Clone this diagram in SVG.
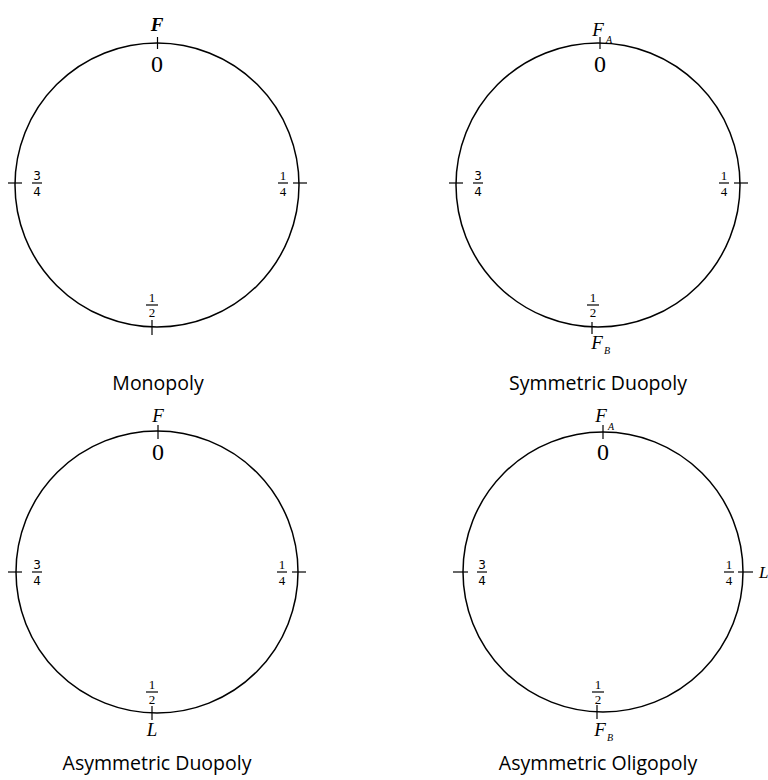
<svg xmlns="http://www.w3.org/2000/svg" width="768" height="780" viewBox="0 0 768 780">
<style>
.c{fill:none;stroke:#000;stroke-width:1.5}
.t{stroke:#000;stroke-width:1.2}
.f{font-family:"Liberation Serif",serif;font-size:13px;fill:#000;text-anchor:middle}
.fs{font-family:"DejaVu Sans",sans-serif;font-size:12px;fill:#000;text-anchor:middle}
.cap{font-family:"Open Sans",sans-serif;font-size:19.5px;fill:#000;text-anchor:middle}
.z{font-family:"Liberation Serif",serif;font-size:24px;fill:#000;text-anchor:middle}
.v{font-family:"Liberation Serif",serif;font-style:italic;fill:#000}
</style>
<rect width="768" height="780" fill="#fff"/>

<g id="monopoly">
<circle class="c" cx="157" cy="185" r="142"/>
<line class="t" x1="157.5" y1="37" x2="157.5" y2="49"/>
<line class="t" x1="8" y1="183" x2="22" y2="183"/>
<line class="t" x1="293" y1="183" x2="307" y2="183"/>
<line class="t" x1="152" y1="320" x2="152" y2="335"/>
<text class="v" x="157" y="31" font-size="19" font-weight="bold" text-anchor="middle">F</text>
<text class="z" x="157" y="72">0</text>
<text class="fs" x="37" y="180">3</text><line class="t" x1="32" y1="183" x2="42" y2="183"/><text class="fs" x="37" y="196">4</text>
<text class="f" x="283" y="180">1</text><line class="t" x1="278" y1="183" x2="288" y2="183"/><text class="f" x="283" y="196">4</text>
<text class="f" x="152" y="302">1</text><line class="t" x1="146" y1="305" x2="158" y2="305"/><text class="f" x="152" y="317">2</text>
<text class="cap" x="158" y="390">Monopoly</text>
</g>

<g id="symmetric-duopoly">
<circle class="c" cx="598" cy="185" r="142"/>
<line class="t" x1="600" y1="37" x2="600" y2="49"/>
<line class="t" x1="449" y1="183" x2="463" y2="183"/>
<line class="t" x1="734" y1="183" x2="748" y2="183"/>
<line class="t" x1="592" y1="322" x2="592" y2="334"/>
<text class="v" x="598" y="36" font-size="19" text-anchor="middle">F</text>
<text class="v" x="606" y="43" font-size="10">A</text>
<text class="z" x="600" y="72">0</text>
<text class="fs" x="478" y="180">3</text><line class="t" x1="473" y1="183" x2="483" y2="183"/><text class="fs" x="478" y="196">4</text>
<text class="f" x="724" y="180">1</text><line class="t" x1="719" y1="183" x2="729" y2="183"/><text class="f" x="724" y="196">4</text>
<text class="f" x="593" y="302">1</text><line class="t" x1="587" y1="305" x2="599" y2="305"/><text class="f" x="593" y="317">2</text>
<text class="v" x="597" y="349" font-size="19" text-anchor="middle">F</text>
<text class="v" x="604" y="354" font-size="10">B</text>
<text class="cap" x="598" y="390">Symmetric Duopoly</text>
</g>

<g id="asymmetric-duopoly">
<circle class="c" cx="157" cy="572" r="141"/>
<line class="t" x1="158" y1="425" x2="158" y2="439"/>
<line class="t" x1="8" y1="572" x2="22" y2="572"/>
<line class="t" x1="292" y1="572" x2="306" y2="572"/>
<line class="t" x1="152" y1="706" x2="152" y2="720"/>
<text class="v" x="158" y="422" font-size="19" text-anchor="middle">F</text>
<text class="z" x="158" y="460">0</text>
<text class="fs" x="37" y="569">3</text><line class="t" x1="32" y1="572" x2="42" y2="572"/><text class="fs" x="37" y="585">4</text>
<text class="f" x="282" y="569">1</text><line class="t" x1="277" y1="572" x2="287" y2="572"/><text class="f" x="282" y="585">4</text>
<text class="f" x="152" y="689">1</text><line class="t" x1="146" y1="692" x2="158" y2="692"/><text class="f" x="152" y="704">2</text>
<text class="v" x="152" y="736" font-size="19" text-anchor="middle">L</text>
<text class="cap" x="157" y="770">Asymmetric Duopoly</text>
</g>

<g id="asymmetric-oligopoly">
<circle class="c" cx="603" cy="572" r="140"/>
<line class="t" x1="603" y1="425" x2="603" y2="439"/>
<line class="t" x1="453" y1="572" x2="468" y2="572"/>
<line class="t" x1="738" y1="572" x2="753" y2="572"/>
<line class="t" x1="597" y1="705" x2="597" y2="719"/>
<text class="v" x="601" y="422" font-size="19" text-anchor="middle">F</text>
<text class="v" x="608" y="430" font-size="10">A</text>
<text class="z" x="603" y="460">0</text>
<text class="fs" x="482" y="569">3</text><line class="t" x1="477" y1="572" x2="487" y2="572"/><text class="fs" x="482" y="585">4</text>
<text class="f" x="729" y="569">1</text><line class="t" x1="724" y1="572" x2="734" y2="572"/><text class="f" x="729" y="585">4</text>
<text class="f" x="598" y="689">1</text><line class="t" x1="592" y1="692" x2="604" y2="692"/><text class="f" x="598" y="704">2</text>
<text class="v" x="600" y="736" font-size="19" text-anchor="middle">F</text>
<text class="v" x="607" y="741" font-size="10">B</text>
<text class="v" x="759" y="578" font-size="17">L</text>
<text class="cap" x="598" y="770">Asymmetric Oligopoly</text>
</g>
</svg>
